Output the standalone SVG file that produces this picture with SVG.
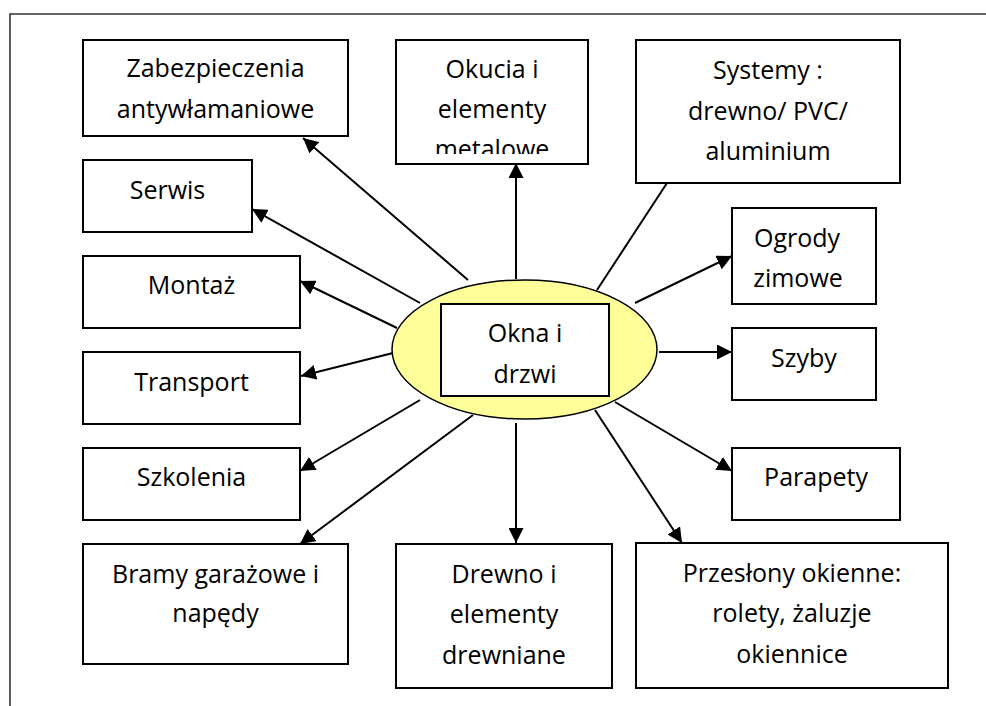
<svg xmlns="http://www.w3.org/2000/svg" width="986" height="706" viewBox="0 0 986 706">
<style>
.box{fill:#fff;stroke:#000;stroke-width:2}
.t{font-family:"Open Sans","Liberation Sans",sans-serif;font-size:25px;fill:#000;text-anchor:middle}
.ln{stroke:#000;stroke-width:2;fill:none}
</style>
<defs>
<marker id="ah" viewBox="0 0 10 10" refX="10" refY="5" markerWidth="15" markerHeight="15" markerUnits="userSpaceOnUse" orient="auto">
<path d="M0,0 L10,5 L0,10 Z" fill="#000"/>
</marker>
<clipPath id="clipOkucia"><rect x="396" y="40" width="192" height="114"/></clipPath>
</defs>
<rect width="986" height="706" fill="#fff"/>
<g id="frame">
<path d="M10,706 V14 H986" fill="none" stroke="#333" stroke-width="1.6"/>
</g>
<g id="connectors">
<line class="ln" x1="468" y1="280" x2="303" y2="138" marker-end="url(#ah)"/>
<line class="ln" x1="516" y1="279" x2="516" y2="163" marker-end="url(#ah)"/>
<line class="ln" x1="597" y1="290" x2="667" y2="183"/>
<line class="ln" x1="635" y1="303" x2="732" y2="256" marker-end="url(#ah)"/>
<line class="ln" x1="659" y1="352" x2="732" y2="352" marker-end="url(#ah)"/>
<line class="ln" x1="615" y1="402" x2="732" y2="471" marker-end="url(#ah)"/>
<line class="ln" x1="595" y1="410" x2="682" y2="543" marker-end="url(#ah)"/>
<line class="ln" x1="516" y1="423" x2="516" y2="543" marker-end="url(#ah)"/>
<line class="ln" x1="473" y1="415" x2="300" y2="544" marker-end="url(#ah)"/>
<line class="ln" x1="420" y1="400" x2="300" y2="471" marker-end="url(#ah)"/>
<line class="ln" x1="397" y1="352" x2="301" y2="376" marker-end="url(#ah)"/>
<line class="ln" x1="397" y1="328" x2="300" y2="281" marker-end="url(#ah)"/>
<line class="ln" x1="420" y1="303" x2="252" y2="209" marker-end="url(#ah)"/>
</g>
<g id="center">
<ellipse cx="524.5" cy="349.5" rx="132.5" ry="69.5" fill="#ffff99" stroke="#000" stroke-width="1.5"/>
<rect class="box" x="441" y="304" width="168" height="92"/>
<text class="t" x="525" y="342">Okna i</text>
<text class="t" x="525" y="383">drzwi</text>
</g>
<g id="zabezpieczenia">
<rect class="box" x="83" y="40" width="265" height="96"/>
<text class="t" x="215.5" y="77">Zabezpieczenia</text>
<text class="t" x="215.5" y="118">antywłamaniowe</text>
</g>
<g id="okucia">
<rect class="box" x="396" y="40" width="192" height="124"/>
<g clip-path="url(#clipOkucia)">
<text class="t" x="492" y="78">Okucia i</text>
<text class="t" x="492" y="118">elementy</text>
<text class="t" x="492" y="158">metalowe</text>
</g>
</g>
<g id="systemy">
<rect class="box" x="636" y="40" width="264" height="143"/>
<text class="t" x="768" y="79">Systemy :</text>
<text class="t" x="768" y="120">drewno/ PVC/</text>
<text class="t" x="768" y="160">aluminium</text>
</g>
<g id="serwis">
<rect class="box" x="83" y="160" width="169" height="72"/>
<text class="t" x="167.5" y="199">Serwis</text>
</g>
<g id="ogrody">
<rect class="box" x="732" y="208" width="144" height="96"/>
<text class="t" x="797" y="247">Ogrody</text>
<text class="t" x="798" y="287">zimowe</text>
</g>
<g id="montaz">
<rect class="box" x="83" y="256" width="217" height="72"/>
<text class="t" x="191.5" y="294">Montaż</text>
</g>
<g id="transport">
<rect class="box" x="83" y="352" width="217" height="72"/>
<text class="t" x="191.5" y="391">Transport</text>
</g>
<g id="szyby">
<rect class="box" x="732" y="328" width="144" height="72"/>
<text class="t" x="804" y="367">Szyby</text>
</g>
<g id="szkolenia">
<rect class="box" x="83" y="448" width="217" height="72"/>
<text class="t" x="191.5" y="486">Szkolenia</text>
</g>
<g id="parapety">
<rect class="box" x="732" y="448" width="168" height="72"/>
<text class="t" x="816" y="486">Parapety</text>
</g>
<g id="bramy">
<rect class="box" x="83" y="544" width="265" height="120"/>
<text class="t" x="215.5" y="583">Bramy garażowe i</text>
<text class="t" x="215.5" y="622">napędy</text>
</g>
<g id="drewno">
<rect class="box" x="396" y="544" width="216" height="144"/>
<text class="t" x="504" y="583">Drewno i</text>
<text class="t" x="504" y="623">elementy</text>
<text class="t" x="504" y="664">drewniane</text>
</g>
<g id="przeslony">
<rect class="box" x="636" y="543" width="312" height="145"/>
<text class="t" x="792" y="582">Przesłony okienne:</text>
<text class="t" x="792" y="622">rolety, żaluzje</text>
<text class="t" x="792" y="663">okiennice</text>
</g>
</svg>
